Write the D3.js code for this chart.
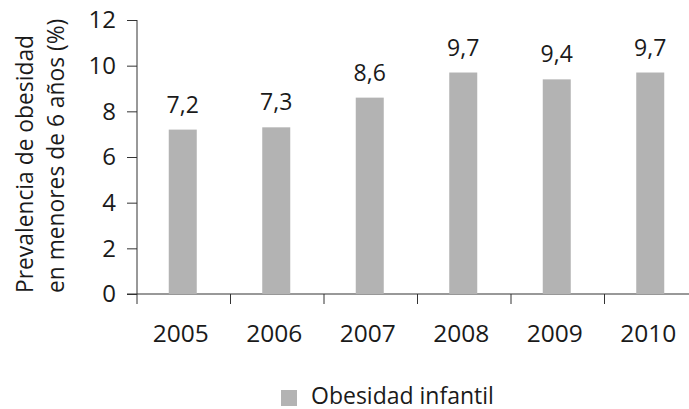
<!DOCTYPE html>
<html>
<head>
<meta charset="utf-8">
<script src="https://cdn.jsdelivr.net/npm/d3@7"></script>
<style>
  html, body { margin: 0; padding: 0; background: #fff; }
  svg { display: block; }
  text { font-family: "Open Sans", sans-serif; fill: #1a1a1a; }
</style>
</head>
<body>
<svg id="chart" width="689" height="409"></svg>
<script>
const years = ["2005", "2006", "2007", "2008", "2009", "2010"];
const values = [7.2, 7.3, 8.6, 9.7, 9.4, 9.7];
const valueLabels = ["7,2", "7,3", "8,6", "9,7", "9,4", "9,7"];
const yTicks = [0, 2, 4, 6, 8, 10, 12];
const seriesName = "Obesidad infantil";
const yTitle = ["Prevalencia de obesidad", "en menores de 6 años (%)"];

const svg = d3.select("#chart");
const axisColor = "#333";
const barColor = "#b3b3b3";

const xOuter = d3.scaleBand().domain(years).range([137, 698]);
const y = d3.scaleLinear().domain([0, 12]).range([294, 20]);

// Y axis
const yAxis = svg.append("g").attr("transform", "translate(137,0)")
  .call(d3.axisLeft(y).tickValues(yTicks).tickSize(10).tickPadding(11).tickFormat(d3.format("d")));
yAxis.select(".domain").attr("stroke", axisColor).attr("d", `M0,${y(0)}V${y(12)}`);
yAxis.selectAll(".tick line").attr("stroke", axisColor);
yAxis.selectAll(".tick text").attr("font-size", 24).attr("font-family", "Open Sans").attr("fill", "#1a1a1a");

// X axis baseline
svg.append("line").attr("x1", 127).attr("x2", 689).attr("y1", y(0)).attr("y2", y(0)).attr("stroke", axisColor);
// x boundary ticks
svg.selectAll(".xtick").data(years).enter().append("line")
  .attr("x1", d => xOuter(d)).attr("x2", d => xOuter(d))
  .attr("y1", y(0)).attr("y2", y(0) + 10).attr("stroke", axisColor);
// x labels
svg.selectAll(".xlab").data(years).enter().append("text")
  .attr("x", d => xOuter(d) + xOuter.bandwidth() / 2 - 3)
  .attr("y", 341.5).attr("text-anchor", "middle").attr("font-size", 24.5)
  .text(d => d);

// Bars
svg.selectAll(".bar").data(values).enter().append("rect")
  .attr("x", (d, i) => xOuter(years[i]) + xOuter.bandwidth() / 2 - 15)
  .attr("width", 28)
  .attr("y", d => y(d)).attr("height", d => y(0) - y(d))
  .attr("fill", barColor);

// Value labels
svg.selectAll(".vlab").data(values).enter().append("text")
  .attr("x", (d, i) => xOuter(years[i]) + xOuter.bandwidth() / 2 - 1)
  .attr("y", d => y(d) - 17).attr("text-anchor", "middle").attr("font-size", 23)
  .text((d, i) => valueLabels[i]);

// Y title
const yt = svg.append("text").attr("transform", "translate(0,293) rotate(-90)")
  .attr("text-anchor", "start").attr("font-size", 22.8);
yt.append("tspan").attr("x", 0).attr("y", 33).text(yTitle[0]);
yt.append("tspan").attr("x", 0).attr("y", 64).text(yTitle[1]);

// Legend
svg.append("rect").attr("x", 281).attr("y", 390).attr("width", 16).attr("height", 16).attr("fill", barColor);
svg.append("text").attr("x", 311).attr("y", 403.5).attr("font-size", 23).text(seriesName);
</script>
</body>
</html>
